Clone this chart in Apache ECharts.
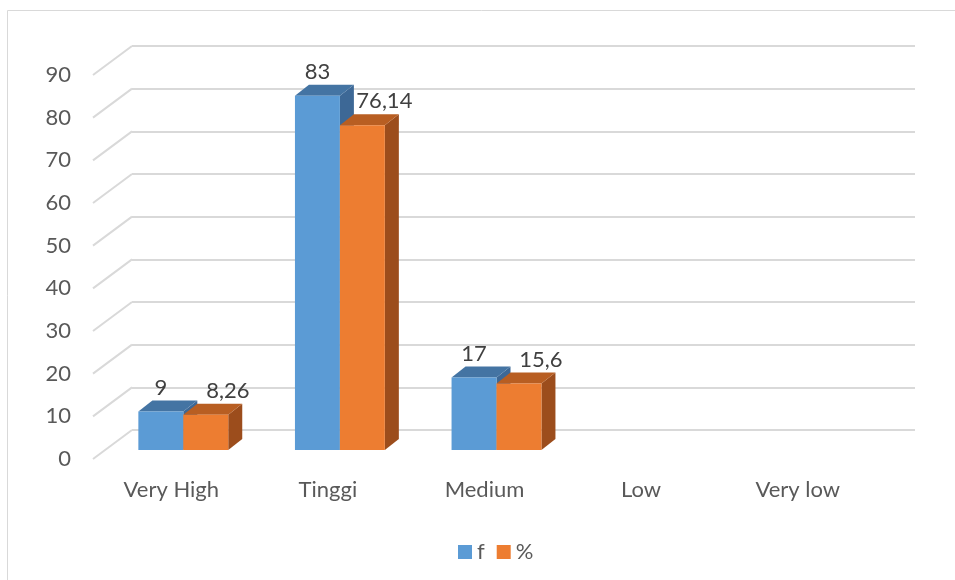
<!DOCTYPE html>
<html>
<head>
<meta charset="utf-8">
<script src="https://cdn.jsdelivr.net/npm/echarts@6/dist/echarts.min.js"></script>
<style>
  html, body { margin: 0; padding: 0; background: #fff; }
  #chart { width: 955px; height: 580px; }
</style>
</head>
<body>
<div id="chart"></div>
<script>
const categories = ['Very High', 'Tinggi', 'Medium', 'Low', 'Very low']
const fValues = [9, 83, 17, null, null]
const pctValues = [8.26, 76.14, 15.6, null, null]
const yTicks = [0, 10, 20, 30, 40, 50, 60, 70, 80, 90]

// back wall -> front of the floor
const FLOOR = [-39, 29]
// back wall -> front face of the columns
const FRONT = [-27, 20]
// depth of one column
const DEPTH = [14, -11]
const FONT = 'Lato'

const chart = echarts.init(document.getElementById('chart'))

function barRenderer (side, colors, labelShift) {
  return function (params, api) {
    const v = api.value(1)
    if (v == null || isNaN(v)) return
    const idx = api.value(0)
    const base = api.coord([idx, 0])
    const top = api.coord([idx, v])
    const w = api.size([1, 0])[0] * 0.287
    const cx = base[0] + FRONT[0]
    const x0 = side === 0 ? cx - w : cx
    const x1 = x0 + w
    const yb = base[1] + FRONT[1]
    const yt = top[1] + FRONT[1]
    const [dx, dy] = DEPTH
    return {
      type: 'group',
      children: [
        {
          type: 'polygon',
          shape: { points: [[x1, yt], [x1 + dx, yt + dy], [x1 + dx, yb + dy], [x1, yb]] },
          style: { fill: colors[2] }
        },
        {
          type: 'polygon',
          shape: { points: [[x0, yt], [x1, yt], [x1 + dx, yt + dy], [x0 + dx, yt + dy]] },
          style: { fill: colors[1] }
        },
        {
          type: 'rect',
          shape: { x: x0, y: yt, width: w, height: yb - yt },
          style: { fill: colors[0] }
        },
        {
          type: 'text',
          style: {
            text: String(v).replace('.', ','),
            x: (x0 + x1) / 2 + labelShift,
            y: yt - 24,
            align: 'center',
            verticalAlign: 'middle',
            fontFamily: FONT,
            fontSize: 22,
            fill: '#404040'
          }
        }
      ]
    }
  }
}

chart.setOption({
  animation: false,
  graphic: [{
    type: 'rect',
    shape: { x: 7.5, y: 10.5, width: 1000, height: 1000 },
    style: { fill: 'none', stroke: '#d9d9d9', lineWidth: 1 },
    silent: true
  }],
  legend: {
    data: ['f', '%'],
    left: 453,
    top: 536,
    icon: 'rect',
    itemWidth: 14,
    itemHeight: 14,
    itemGap: 12,
    textStyle: { fontFamily: FONT, fontSize: 22, color: '#595959' }
  },
  grid: [
    // back wall
    { left: 132, right: 40, top: 46, bottom: 150 },
    // front edge of the floor, carries the labels
    { left: 93, right: 79, top: 75, bottom: 121 }
  ],
  xAxis: [
    {
      gridIndex: 0,
      type: 'category',
      data: categories,
      axisLine: { show: false },
      axisTick: { show: false },
      axisLabel: { show: false }
    },
    {
      gridIndex: 1,
      type: 'category',
      data: categories,
      axisLine: { show: false },
      axisTick: { show: false },
      axisLabel: { margin: 20, fontFamily: FONT, fontSize: 22, color: '#595959' }
    }
  ],
  yAxis: [
    {
      gridIndex: 0,
      type: 'value',
      min: 0,
      max: 90,
      interval: 10,
      axisLine: { show: false },
      axisTick: { show: false },
      axisLabel: { show: false },
      splitLine: { lineStyle: { color: '#d9d9d9', width: 2 } }
    },
    {
      gridIndex: 1,
      type: 'value',
      min: 0,
      max: 90,
      interval: 10,
      axisLine: { show: false },
      axisTick: { show: false },
      splitLine: { show: false },
      axisLabel: { margin: 22, fontFamily: FONT, fontSize: 22, color: '#595959' }
    }
  ],
  series: [
    {
      name: 'walls',
      type: 'custom',
      xAxisIndex: 0,
      yAxisIndex: 0,
      silent: true,
      z: 1,
      itemStyle: { color: '#d9d9d9' },
      data: yTicks.map((t) => [0, t]),
      renderItem: (params, api) => {
        const y = api.coord([0, api.value(1)])[1]
        const x = params.coordSys.x
        return {
          type: 'line',
          shape: { x1: x, y1: y, x2: x + FLOOR[0], y2: y + FLOOR[1] },
          style: { stroke: '#d9d9d9', lineWidth: 2 }
        }
      }
    },
    {
      name: 'f',
      type: 'custom',
      xAxisIndex: 0,
      yAxisIndex: 0,
      clip: false,
      z: 3,
      itemStyle: { color: '#5B9BD5' },
      data: fValues.map((v, i) => [i, v]),
      renderItem: barRenderer(0, ['#5B9BD5', '#4474A3', '#3D6896'], 0)
    },
    {
      name: '%',
      type: 'custom',
      xAxisIndex: 0,
      yAxisIndex: 0,
      clip: false,
      z: 4,
      itemStyle: { color: '#ED7D31' },
      data: pctValues.map((v, i) => [i, v]),
      renderItem: barRenderer(1, ['#ED7D31', '#B85E22', '#9C4D1C'], 22)
    }
  ]
})
</script>
</body>
</html>
